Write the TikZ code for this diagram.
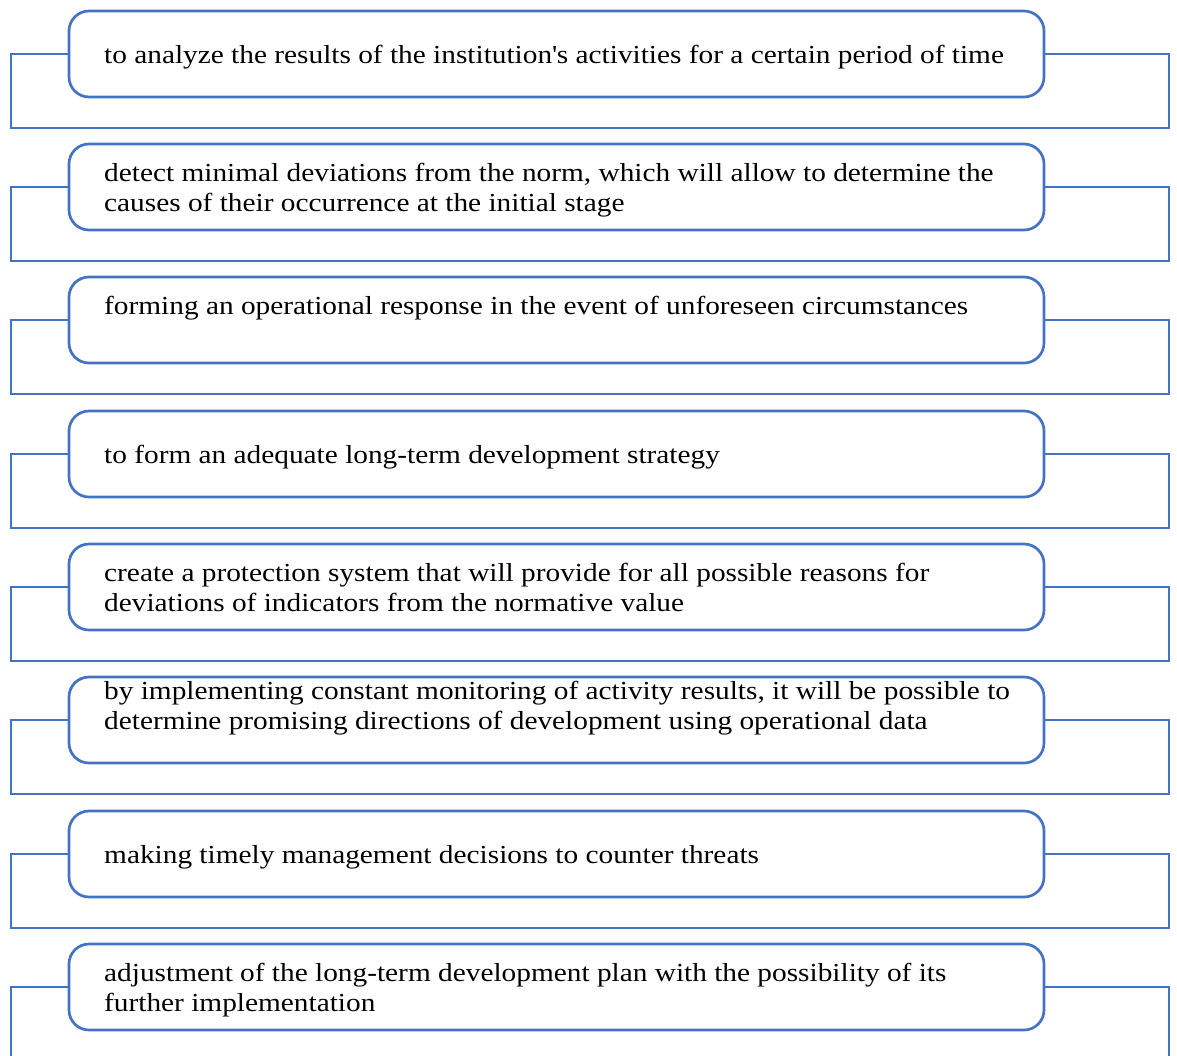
\documentclass[tikz,border=0pt]{standalone}
\usepackage{fontspec}
\setmainfont{Liberation Serif}[FakeStretch=1.128]
\definecolor{frame}{HTML}{4472C4}
\begin{document}
\begin{tikzpicture}[x=1pt,y=-1pt,
  box/.style={draw=frame, line width=2.7pt, fill=white, rounded corners=20pt,
    minimum width=975pt, minimum height=86pt, inner sep=0pt, outer sep=0pt,
    anchor=north west},
  bracket/.style={draw=frame, line width=2.7pt},
  txt/.style={anchor=base west, inner sep=0pt,
    font=\fontsize{26}{30}\selectfont}]
\useasboundingbox (0,0) rectangle (1177,1055);
\clip (0,0) rectangle (1177,1055);

% rounded boxes and the open frame that hangs off each side of them
\foreach \i/\t in {1/11,2/144,3/277,4/411,5/544,6/677,7/811,8/944}{
  \coordinate (lb\i) at (11,\t+117);
  \coordinate (rb\i) at (1169,\t+117);
  \node[box] (b\i) at (69,\t) {};
}
\foreach \i in {1,...,8}{
  \draw[bracket] (b\i.west) -- (b\i.west -| lb\i) -- (lb\i) -- (rb\i)
    -- (b\i.east -| rb\i) -- (b\i.east);
}

\node[txt] (t1) at (104,63.5) {to analyze the results of the institution\textquotesingle s activities for a certain period of time};
\node[txt] (t2) at (104,181) {\begin{tabular}[t]{@{}l@{}}detect minimal deviations from the norm, which will allow to determine the\\causes of their occurrence at the initial stage\end{tabular}};
\node[txt] (t3) at (104,314.5) {forming an operational response in the event of unforeseen circumstances};
\node[txt] (t4) at (104,463.5) {to form an adequate long-term development strategy};
\node[txt] (t5) at (104,581) {\begin{tabular}[t]{@{}l@{}}create a protection system that will provide for all possible reasons for\\deviations of indicators from the normative value\end{tabular}};
\node[txt] (t6) at (104,699.5) {\begin{tabular}[t]{@{}l@{}}by implementing constant monitoring of activity results, it will be possible to\\determine promising directions of development using operational data\end{tabular}};
\node[txt] (t7) at (104,863.5) {making timely management decisions to counter threats};
\node[txt] (t8) at (104,981) {\begin{tabular}[t]{@{}l@{}}adjustment of the long-term development plan with the possibility of its\\further implementation\end{tabular}};
\end{tikzpicture}
\end{document}
